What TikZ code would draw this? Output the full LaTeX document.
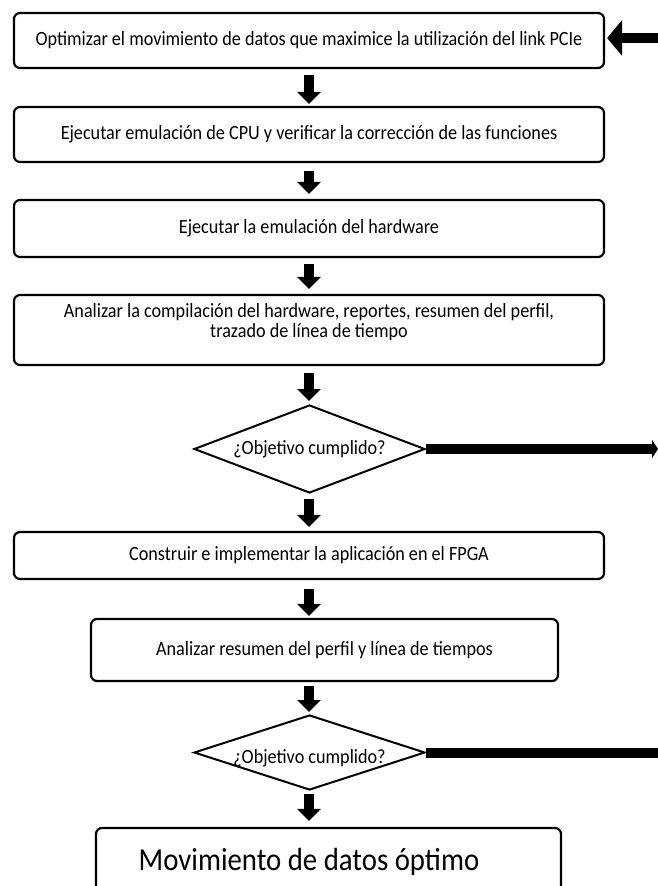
\documentclass[tikz,border=0pt]{standalone}
\usepackage{fontspec}
\setmainfont{Carlito}[FakeStretch=0.9]
\usetikzlibrary{shapes.geometric,arrows.meta}
\begin{document}
\begin{tikzpicture}[x=1pt,y=-1pt,
  stepbox/.style={draw, line width=2.2pt, rounded corners=6pt, inner sep=0pt,
    font=\fontsize{20.2}{22}\selectfont, align=center},
  decision/.style={draw, diamond, line width=2pt, inner sep=0pt},
  dlabel/.style={font=\fontsize{20.2}{22}\selectfont, inner sep=0pt},
  downarr/.style={line width=10pt, -{Triangle[width=23pt,length=12pt]}},
  feed/.style={line width=10pt}
]
\useasboundingbox (0,0) rectangle (658,886);
\clip (0,0) rectangle (658,886);

% process steps
\node[stepbox, minimum width=590pt, minimum height=55pt] (b1) at (309,40.5)
  {Optimizar el movimiento de datos que maximice la utilización del link PCIe};
\node[stepbox, minimum width=590pt, minimum height=55pt] (b2) at (309,134.5)
  {Ejecutar emulación de CPU y verificar la corrección de las funciones};
\node[stepbox, minimum width=590pt, minimum height=57pt] (b3) at (309,228.5)
  {Ejecutar la emulación del hardware};
\node[stepbox, minimum width=590pt, minimum height=70pt] (b4) at (309,330) {};
\node[font=\fontsize{20.2}{20.5}\selectfont, align=center, inner sep=0pt] (t4) at (309,322)
  {Analizar la compilación del hardware, reportes, resumen del perfil,\\trazado de línea de tiempo};
\node[decision, minimum width=231pt, minimum height=88pt] (d1) at (309.5,449) {};
\node[dlabel] (t1) at (d1.center) {¿Objetivo cumplido?};
\node[stepbox, minimum width=590pt, minimum height=47pt] (b5) at (309,555.5)
  {Construir e implementar la aplicación en el FPGA};
\node[stepbox, minimum width=467pt, minimum height=62pt] (b6) at (324.5,650)
  {Analizar resumen del perfil y línea de tiempos};
\node[decision, minimum width=231pt, minimum height=75pt] (d2) at (309.5,752.5) {};
\node[dlabel] (t2) at ([yshift=-6pt]d2.center) {¿Objetivo cumplido?};
\node[stepbox, minimum width=465pt, minimum height=100pt] (b7) at (328.5,878) {};
\node[font=\fontsize{32}{34}\selectfont, inner sep=0pt] (t7) at (309,862)
  {Movimiento de datos óptimo};

% vertical flow
\draw[downarr, shorten <=6pt, shorten >=2pt] (b1.south) -- (b2.north);
\draw[downarr, shorten <=8pt, shorten >=5pt] (b2.south) -- (b3.north);
\draw[downarr, shorten <=6pt, shorten >=5pt] (b3.south) -- (b4.north);
\draw[downarr, shorten <=7pt, shorten >=3pt] (b4.south) -- (b4.south |- d1.north);
\draw[downarr, shorten <=5pt, shorten >=4pt] (b4.south |- d1.south) -- (b5.north);
\draw[downarr, shorten <=9pt, shorten >=2pt] (b5.south) -- (b5.south |- b6.north);
\draw[downarr, shorten <=4pt, shorten >=2pt] (b6.south -| b5.south) -- (b5.south |- d2.north);
\draw[downarr, shorten <=3pt, shorten >=6pt] (b5.south |- d2.south) -- (b5.south |- b7.north);

% loop-back connectors on the right
\coordinate (r1) at (662,38);
\coordinate (r2) at (658,449);
\coordinate (r3) at (662,752.5);
\draw[feed, -{Triangle[width=35pt,length=15pt]}, shorten >=2pt] (r1) -- (b1.east |- r1);
\draw[feed, -{Triangle[width=18pt,length=6pt]}] (d1.east) -- (r2);
\draw[feed] (d2.east) -- (r3);
\end{tikzpicture}
\end{document}
